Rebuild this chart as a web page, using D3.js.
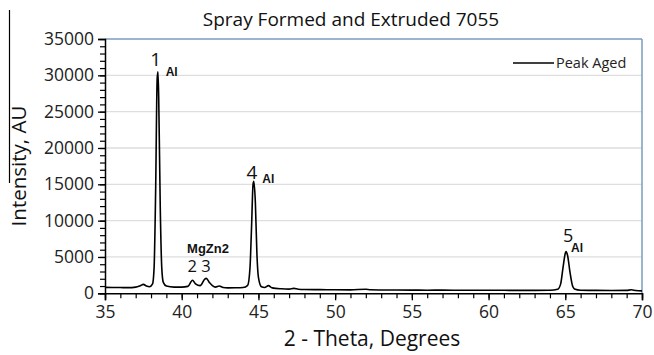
<!DOCTYPE html>
<html>
<head>
<meta charset="utf-8">
<script src="https://cdn.jsdelivr.net/npm/d3@7"></script>
<style>
  html, body { margin: 0; padding: 0; background: #fff; }
  svg { display: block; }
  text { font-family: "Open Sans", "Noto Sans", "DejaVu Sans", sans-serif; }
</style>
</head>
<body>
<svg id="chart" width="654" height="355"></svg>
<script>
// ---- data ----
const twoTheta = [35.0,35.5,36.0,36.5,37.0,37.3,37.5,37.7,37.9,38.1,38.2,38.3,38.4,38.45,38.5,38.6,38.7,38.8,39.0,39.5,40.0,40.4,40.7,40.9,41.2,41.5,41.6,41.8,42.0,42.2,42.45,42.7,43.0,43.5,44.0,44.3,44.45,44.55,44.65,44.7,44.8,44.9,45.0,45.2,45.4,45.65,45.9,46.5,47.0,47.3,47.6,48,49,50,51,52,52.3,53,54,55,56,57,58,59,60,61,62,63,64,64.5,64.7,64.85,65.0,65.05,65.15,65.3,65.45,65.6,66,67,68,69,69.3,69.6,70];
const intensity = [820,800,790,780,850,1050,1230,1000,900,1300,3500,14000,29500,30500,27000,12000,3500,1500,1000,850,850,950,1800,1300,1050,1950,2050,1500,1050,850,1000,800,750,760,800,1100,3500,9000,15000,15400,12500,5500,2200,900,800,1050,750,620,580,680,560,520,500,480,470,560,480,460,450,440,430,440,420,420,410,410,400,400,420,550,1300,3500,5500,5750,5200,3000,1200,600,430,400,380,400,480,380,330];
const xTicks = [35,40,45,50,55,60,65,70];
const yTicks = [0,5000,10000,15000,20000,25000,30000,35000];
const peakLabels = ["1","2 3","4","5"];
const peakX = [38.43,41.1,44.67,65.05];
const peakPhase = ["Al","MgZn2","Al","Al"];
const seriesName = "Peak Aged";
const titleText = "Spray Formed and Extruded 7055";
const xTitle = "2 - Theta, Degrees";
const yTitle = "Intensity, AU";

// ---- layout ----
const svg = d3.select("#chart");
const L = 105, R = 642, T = 39, B = 293.3;
const x = d3.scaleLinear().domain([35,70]).range([L,R]);
const y = d3.scaleLinear().domain([0,35000]).range([B,T]);

// gridlines
svg.append("g").selectAll("line").data(yTicks.filter(d => d > 0 && d < 35000)).join("line")
  .attr("x1", L).attr("x2", R).attr("y1", d => y(d)).attr("y2", d => y(d))
  .attr("stroke", "#dedede").attr("stroke-width", 1.3);

// plot border top/right (blue)
svg.append("line").attr("x1", L).attr("x2", R).attr("y1", y(35000)).attr("y2", y(35000))
  .attr("stroke", "#7a9cc0").attr("stroke-width", 1.5);
svg.append("line").attr("x1", R).attr("x2", R).attr("y1", y(35000)).attr("y2", B)
  .attr("stroke", "#7a9cc0").attr("stroke-width", 1.5);

const tickFont = '"Open Sans", sans-serif';

// axes
const yMinor = d3.range(0, 35001, 1000);
const gy = svg.append("g").attr("transform", `translate(${L},0)`);
gy.call(d3.axisLeft(y).tickValues(yMinor).tickSize(5).tickFormat(""));
gy.call(g => g.select(".domain").remove());
gy.selectAll("line").attr("stroke-width", 1.2);
const gy2 = svg.append("g").attr("transform", `translate(${L},0)`);
gy2.call(d3.axisLeft(y).tickValues(yTicks).tickSize(7).tickPadding(4).tickFormat(d3.format("d")));
gy2.selectAll("path.domain").attr("stroke", "#000").attr("stroke-width", 1.5);
gy2.selectAll("line").attr("stroke-width", 1.3);
gy2.selectAll("text").attr("font-size", 17.5).attr("fill", "#222").style("font-family", tickFont);

const xMinor = d3.range(35, 70.01, 1);
const gx = svg.append("g").attr("transform", `translate(0,${B})`);
gx.call(d3.axisBottom(x).tickValues(xMinor).tickSize(5).tickFormat(""));
gx.call(g => g.select(".domain").remove());
gx.selectAll("line").attr("stroke-width", 1.2);
const gx2 = svg.append("g").attr("transform", `translate(0,${B})`);
gx2.call(d3.axisBottom(x).tickValues(xTicks).tickSize(7).tickPadding(5).tickFormat(d3.format("d")));
gx2.selectAll("path.domain").attr("stroke", "#000").attr("stroke-width", 1.6);
gx2.selectAll("line").attr("stroke-width", 1.3);
gx2.selectAll("text").attr("font-size", 17.5).attr("fill", "#222").style("font-family", tickFont);

// series
const pts = twoTheta.map((t, i) => [t, intensity[i]]);
svg.append("path").datum(pts)
  .attr("fill", "none").attr("stroke", "#000").attr("stroke-width", 1.6)
  .attr("stroke-linejoin", "round")
  .attr("d", d3.line().x(d => x(d[0])).y(d => y(d[1])).curve(d3.curveMonotoneX));

// peak annotations
const boldFont = '"Liberation Sans", Arial, sans-serif';
const num = svg.append("g").attr("fill", "#111");
// 1
num.append("text").attr("x", x(peakX[0]) - 2).attr("y", 66).attr("text-anchor", "middle")
  .attr("font-size", 19).text(peakLabels[0]);
num.append("text").attr("x", x(peakX[0]) + 8).attr("y", 76).attr("font-size", 12)
  .attr("font-weight", "bold").style("font-family", boldFont).text(peakPhase[0]);
// 2 3 & MgZn2
num.append("text").attr("x", 199).attr("y", 272).attr("text-anchor", "middle")
  .attr("font-size", 16.5).text(peakLabels[1]);
num.append("text").attr("x", 208).attr("y", 252.5).attr("text-anchor", "middle")
  .attr("font-size", 13).attr("font-weight", "bold")
  .style("font-family", boldFont).text(peakPhase[1]);
// 4
num.append("text").attr("x", x(peakX[2]) - 1.5).attr("y", 179).attr("text-anchor", "middle")
  .attr("font-size", 19).text(peakLabels[2]);
num.append("text").attr("x", x(peakX[2]) + 9).attr("y", 183).attr("font-size", 12)
  .attr("font-weight", "bold").style("font-family", boldFont).text(peakPhase[2]);
// 5
num.append("text").attr("x", x(peakX[3]) + 2).attr("y", 242).attr("text-anchor", "middle")
  .attr("font-size", 18).text(peakLabels[3]);
num.append("text").attr("x", x(peakX[3]) + 5).attr("y", 252).attr("font-size", 12)
  .attr("font-weight", "bold").style("font-family", boldFont).text(peakPhase[3]);

// legend
svg.append("line").attr("x1", 513).attr("x2", 554).attr("y1", 63).attr("y2", 63)
  .attr("stroke", "#000").attr("stroke-width", 1.4);
svg.append("text").attr("x", 556).attr("y", 68).attr("font-size", 14.5).attr("fill", "#222")
  .text(seriesName);

// titles
svg.append("text").attr("x", 351).attr("y", 26).attr("text-anchor", "middle")
  .attr("font-size", 19).attr("fill", "#111").text(titleText);
svg.append("text").attr("x", 372).attr("y", 346).attr("text-anchor", "middle")
  .attr("font-size", 21).attr("fill", "#111").text(xTitle);
svg.append("text").attr("transform", "translate(26,166) rotate(-90)").attr("text-anchor", "middle")
  .attr("font-size", 20.5).attr("fill", "#111").text(yTitle);

// decorative left edge line from original figure
svg.append("line").attr("x1", 9.5).attr("x2", 9.5).attr("y1", 10).attr("y2", 183)
  .attr("stroke", "#000").attr("stroke-width", 1.2);
</script>
</body>
</html>
